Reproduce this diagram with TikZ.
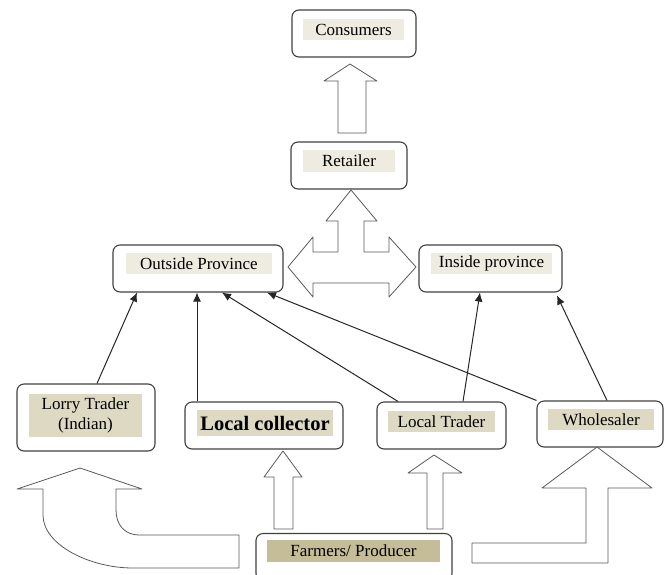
\documentclass[tikz,border=0pt]{standalone}
\usepackage{fontspec}
\setmainfont{Liberation Serif}
\usetikzlibrary{calc,arrows.meta}
\definecolor{hlLight}{HTML}{EEECE1}
\definecolor{hlTan}{HTML}{DDD9C3}
\definecolor{hlDark}{HTML}{C4BD97}
\definecolor{edge}{HTML}{404040}

\begin{document}
\begin{tikzpicture}[x=1pt, y=-1pt, line join=round,
		box/.style={draw=edge, line width=1.1pt, rounded corners=7pt, minimum width=#1, minimum height=47pt, inner sep=0pt},
		tag/.style={fill=#1, inner sep=0pt, font=\fontsize{17}{20}\selectfont},
		flow/.style={-{Latex[length=9pt,width=8pt]}, line width=1pt, draw=black!85},
		blk/.style={draw=black!65, fill=white, line width=0.8pt}]
	\useasboundingbox (0,0) rectangle (664,574);
	
	% boxes
	\node[box=124pt] (cons) at (354,33.5) {};
	\node[box=116pt] (ret) at (349,165.5) {};
	\node[box=170pt] (outp) at (198,268.5) {};
	\node[box=143pt] (inp) at (490.5,268.5) {};
	\node[box=138pt, minimum height=67pt] (lorry) at (86,417.5) {};
	\node[box=158pt] (coll) at (264,425.5) {};
	\node[box=129pt] (ltr) at (441.5,425.5) {};
	\node[box=126pt, minimum height=46pt] (whol) at (600,424) {};
	\node[box=196pt] (farm) at (354,557) {};
	
	% labels
	\node[tag=hlLight, minimum width=101pt, minimum height=21pt] (consT) at (353.5,29.5) {Consumers};
	\node[tag=hlLight, minimum width=92pt, minimum height=22pt] (retT) at (349,161) {Retailer};
	\node[tag=hlLight, minimum width=146pt, minimum height=21pt] (outpT) at (199,263.5) {Outside Province};
	\node[tag=hlLight, minimum width=121pt, minimum height=21pt] (inpT) at (491.5,263.5) {Inside province};
	\node[tag=hlTan, minimum width=113pt, minimum height=43pt, align=center] (lorryT) at (85.5,415.5) {Lorry Trader\\(Indian)};
	\node[tag=hlTan, minimum width=136pt, minimum height=26pt, font=\bfseries\fontsize{20.5}{24}\selectfont] (collT) at (265,423) {Local collector};
	\node[tag=hlTan, minimum width=107pt, minimum height=21pt] (ltrT) at (441.5,421.5) {Local Trader};
	\node[tag=hlTan, minimum width=106pt, minimum height=21pt] (wholT) at (601,419.5) {Wholesaler};
	\node[tag=hlDark, minimum width=173pt, minimum height=22pt] (farmT) at (353.5,551) {Farmers/ Producer};
	
	% trade links
	\draw[flow] ($(lorry.north)+(11,0)$) -- ($(outp.south)+(-61,0)$);
	\draw[flow] ($(coll.north)+(-67,0)$) -- ($(outp.south)+(-1,0)$);
	\draw[flow] ($(ltr.north)+(-43.5,0)$) -- ($(outp.south)+(24,0)$);
	\draw[flow] (whol.north west) -- ($(outp.south)+(69,0)$);
	\draw[flow] ($(ltr.north)+(21.5,0)$) -- ($(inp.south)+(-10.5,0)$);
	\draw[flow] ($(whol.north)+(7,0)$) -- ($(inp.south)+(66.5,3)$);
	
	% block arrows
	\draw[blk] (350,64) -- (377,81) -- (366,81) -- (366,133) -- (338,133) -- (338,81) -- (324,81) -- cycle;
	\draw[blk] (351,190) -- (377,221) -- (364,221) -- (364,252) -- (389,252) -- (389,237) -- (416,267)
		-- (389,297) -- (389,283) -- (313,283) -- (313,297) -- (288,267) -- (313,237) -- (313,252)
		-- (338,252) -- (338,221) -- (326,221) -- cycle;
	\draw[blk] (283,451) -- (302,477) -- (293,477) -- (293,529) -- (274,529) -- (274,477) -- (264,477) -- cycle;
	\draw[blk] (434,455) -- (462,473) -- (443,473) -- (443,529) -- (427,529) -- (427,473) -- (408,473) -- cycle;
	\draw[blk] (239,535) -- (139,535) .. controls (125,535) and (116,525) .. (116,510) -- (116,489) -- (142,489)
		-- (80,468) -- (17,489) -- (43,489) -- (43,515) .. controls (43,545) and (90,568) .. (133,568)
		-- (239,568) -- cycle;
	\draw[blk] (472,543) -- (586,543) -- (586,488) -- (542,488) -- (597,447) -- (652,488) -- (608,488)
		-- (608,563) -- (472,563) -- cycle;
\end{tikzpicture}
\end{document}
